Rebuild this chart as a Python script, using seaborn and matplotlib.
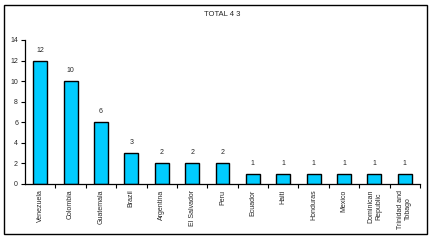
import matplotlib
matplotlib.use("Agg")
import matplotlib.pyplot as plt
import seaborn as sns
import pandas as pd
from matplotlib.patches import Rectangle

countries = ["Venezuela", "Colombia", "Guatemala", "Brazil", "Argentina", "El Salvador",
             "Peru", "Ecuador", "Haiti", "Honduras", "Mexico", "Dominican\nRepublic",
             "Trinidad and\nTobago"]
counts = [12, 10, 6, 3, 2, 2, 2, 1, 1, 1, 1, 1, 1]
title = "TOTAL 4 3"

sns.set_style("white")
plt.rcParams['font.family'] = ['Liberation Sans', 'DejaVu Sans']

df = pd.DataFrame({"country": countries, "count": counts})

fig = plt.figure(figsize=(4.32, 2.4), dpi=100)
ax = fig.add_axes([25/432, 1-184/240, (420-25)/432, (184-40)/240])
sns.barplot(data=df, x="country", y="count", color="#00CCFF", edgecolor="black",
            linewidth=1.0, width=0.46, saturation=1, ax=ax)

ax.set_xlim(-0.5, len(countries)-0.5)
ax.set_ylim(0, 14)
ax.set_yticks(range(0, 15, 2))
ax.set_xlabel("")
ax.set_ylabel("")
ax.set_title(title, fontsize=5.5, pad=17)

# x ticks at category boundaries, labels at centers
ax.set_xticks([i + 0.5 for i in range(len(countries))], minor=False)
ax.set_xticklabels([])
ax.set_xticks(range(len(countries)), minor=True)
ax.set_xticklabels(countries, minor=True, rotation=90, fontsize=5, va="top")
ax.tick_params(axis="x", which="major", direction="out", length=3, width=0.8, color="black", bottom=True)
ax.tick_params(axis="x", which="minor", length=0, pad=4)
ax.tick_params(axis="y", direction="out", length=3, width=0.8, color="black", left=True, labelsize=5, pad=2)

for s in ["top", "right"]:
    ax.spines[s].set_visible(False)
for s in ["left", "bottom"]:
    ax.spines[s].set_color("black")
    ax.spines[s].set_linewidth(0.9)

for i, v in enumerate(counts):
    ax.annotate(str(v), (i, v), xytext=(0, 5), textcoords="offset points",
                ha="center", va="bottom", fontsize=5)

fig.patches.append(Rectangle((4/432, 1-234/240), (427-4)/432, (234-4.5)/240,
                             transform=fig.transFigure, fill=False,
                             edgecolor="black", linewidth=1.0))

fig.savefig("out.png", dpi=100)
